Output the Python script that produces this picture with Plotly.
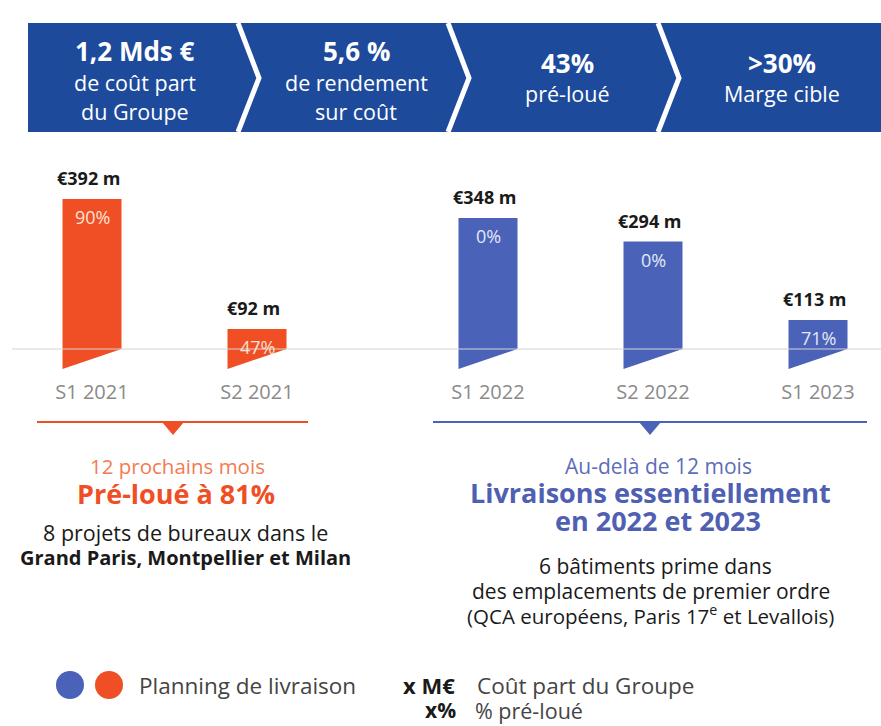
import plotly.graph_objects as go

# ---------------- data ----------------
periods = ["S1 2021", "S2 2021", "S1 2022", "S2 2022", "S1 2023"]
cost_meur = [392, 92, 348, 294, 113]
preleased_pct = [90, 47, 0, 0, 71]
groups = ["orange", "orange", "blue", "blue", "blue"]

header_big = ["1,2 Mds €", "5,6 %", "43%", ">30%"]
header_small = [["de coût part", "du Groupe"], ["de rendement", "sur coût"], ["pré-loué"], ["Marge cible"]]

# ---------------- style ----------------
W, H = 881, 726
FONT = "Open Sans"
ORANGE = "#F04E25"
BLUE = "#4A62B7"
NAVY = "#1E4A9C"
DARK = "#1a1a1a"
GREY = "#8a8a8a"

# x positions: second group set apart by a wider gap
xpos = []
cur = 0.0
for i, g in enumerate(groups):
    if i > 0:
        cur += 1.4 if groups[i] != groups[i - 1] else 1.0
    xpos.append(cur)

px_per_x = 165.0
x0_px = 92.0
px_per_v = 170.0 / 392.0
base_px = 369.0
x_range = [-x0_px / px_per_x, (W - x0_px) / px_per_x]
y_range = [(base_px - H) / px_per_v, base_px / px_per_v]

bar_w = 59.0 / px_per_x
cut = 20.0 / px_per_v          # slanted bottom height (data units)
axis_v = cut                   # grey baseline sits at the top of the slant


def P(x, y):
    """pixel -> paper coordinates"""
    return x / W, 1 - y / H


fig = go.Figure()

# bars as slanted-bottom polygons
for xi, v, g in zip(xpos, cost_meur, groups):
    col = ORANGE if g == "orange" else BLUE
    xs = [xi - bar_w / 2, xi + bar_w / 2, xi + bar_w / 2, xi - bar_w / 2, xi - bar_w / 2]
    ys = [v, v, cut, 0, v]
    fig.add_trace(go.Scatter(x=xs, y=ys, fill="toself", fillcolor=col, mode="lines",
                             line=dict(width=0, color=col), hoverinfo="skip", showlegend=False))

annotations = []
for xi, v, p, g in zip(xpos, cost_meur, preleased_pct, groups):
    annotations.append(dict(x=xi - 0.02, y=v, xref="x", yref="y", text=f"<b>€{v} m</b>",
                            xanchor="center", yanchor="middle",
                            showarrow=False, yshift=21, font=dict(family=FONT, size=18, color=DARK)))
    annotations.append(dict(x=xi, y=v, xref="x", yref="y", text=f"{p}%",
                            xanchor="center", yanchor="middle",
                            showarrow=False, yshift=-18,
                            font=dict(family=FONT, size=18, color="#FBE3D4" if g == "orange" else "#E3E8F7")))

shapes = []
# baseline
shapes.append(dict(type="line", xref="paper", yref="y", x0=12 / W, x1=1, y0=axis_v, y1=axis_v,
                   line=dict(color="#d4d4d4", width=1), layer="above"))

# header band
shapes.append(dict(type="rect", xref="paper", yref="paper", x0=P(28, 0)[0], x1=1,
                   y0=P(0, 132)[1], y1=P(0, 23)[1], fillcolor=NAVY, line=dict(width=0), layer="below"))
for cx in [238, 448, 658]:
    a, b, c = P(cx, 23), P(cx + 21, 78), P(cx, 132)
    shapes.append(dict(type="path", xref="paper", yref="paper",
                       path=f"M {a[0]},{a[1]} L {b[0]},{b[1]} L {c[0]},{c[1]}",
                       line=dict(color="white", width=5)))


def txt(x, y, s, size, color, bold=False, anchor="center"):
    px_, py_ = P(x, y)
    annotations.append(dict(x=px_, y=py_, xref="paper", yref="paper", xanchor=anchor, yanchor="middle",
                            text=f"<b>{s}</b>" if bold else s, showarrow=False, borderpad=0,
                            font=dict(family=FONT, size=size, color=color)))


# header texts
hx = [135, 356, 567, 782]
for i, (big, small) in enumerate(zip(header_big, header_small)):
    ys = [51, 83, 111] if len(small) == 2 else [63, 93]
    txt(hx[i], ys[0], big, 26, "white", True)
    for s, yy in zip(small, ys[1:]):
        txt(hx[i], yy, s, 21.5, "white")

# bracket lines with pointers
for (xa, xb, xc, col) in [(37, 308, 173, ORANGE), (433, 867, 650, BLUE)]:
    a, b = P(xa, 422), P(xb, 422)
    shapes.append(dict(type="line", xref="paper", yref="paper", x0=a[0], x1=b[0], y0=a[1], y1=b[1],
                       line=dict(color=col, width=2)))
    t1, t2, t3 = P(xc - 11, 422), P(xc + 11, 422), P(xc, 435)
    shapes.append(dict(type="path", xref="paper", yref="paper",
                       path=f"M {t1[0]},{t1[1]} L {t2[0]},{t2[1]} L {t3[0]},{t3[1]} Z",
                       fillcolor=col, line=dict(width=0)))

txt(177, 466, "12 prochains mois", 20.5, "#F37B52")
txt(176, 493, "Pré-loué à 81%", 27, ORANGE, True)
txt(185, 532, "8 projets de bureaux dans le", 21.5, DARK)
txt(185, 557, "Grand Paris, Montpellier et Milan", 20, DARK, True)

txt(658, 466, "Au-delà de 12 mois", 21, "#5D6DB8")
txt(650, 492, "Livraisons essentiellement", 27, "#4F60B2", True)
txt(658, 520, "en 2022 et 2023", 27, "#4F60B2", True)
txt(655, 566, "6 bâtiments prime dans", 21, DARK)
txt(651, 591, "des emplacements de premier ordre", 21, DARK)
txt(650, 615, "(QCA européens, Paris 17<sup>e</sup> et Levallois)", 20.5, DARK)

# legend
for cx, col in [(70, BLUE), (109, ORANGE)]:
    a, b = P(cx - 14, 671), P(cx + 14, 699)
    shapes.append(dict(type="circle", xref="paper", yref="paper", x0=a[0], x1=b[0], y0=b[1], y1=a[1],
                       fillcolor=col, line=dict(width=0)))

txt(138, 685, "Planning de livraison", 22.5, "#444444", anchor="left")
txt(402, 685, "x M€", 22, DARK, True, anchor="left")
txt(476, 685, "Coût part du Groupe", 22.5, "#444444", anchor="left")
txt(424, 710, "x%", 21, DARK, True, anchor="left")
txt(474, 710, "% pré-loué", 21.5, "#444444", anchor="left")

fig.update_layout(
    width=W, height=H, margin=dict(l=0, r=0, t=0, b=0),
    paper_bgcolor="white", plot_bgcolor="white",
    xaxis=dict(range=x_range, showgrid=False, zeroline=False, showline=False,
               tickmode="array", tickvals=xpos, ticktext=periods, ticks="",
               anchor="free", position=1 - 349 / H, side="bottom", ticklabelstandoff=29,
               tickfont=dict(family=FONT, size=20, color=GREY), fixedrange=True),
    yaxis=dict(range=y_range, visible=False, fixedrange=True),
    shapes=shapes, annotations=annotations, showlegend=False,
)

fig.write_html("out.html", config={"displayModeBar": False},
               post_script="document.body.style.margin='0';document.body.style.overflow='hidden';")
